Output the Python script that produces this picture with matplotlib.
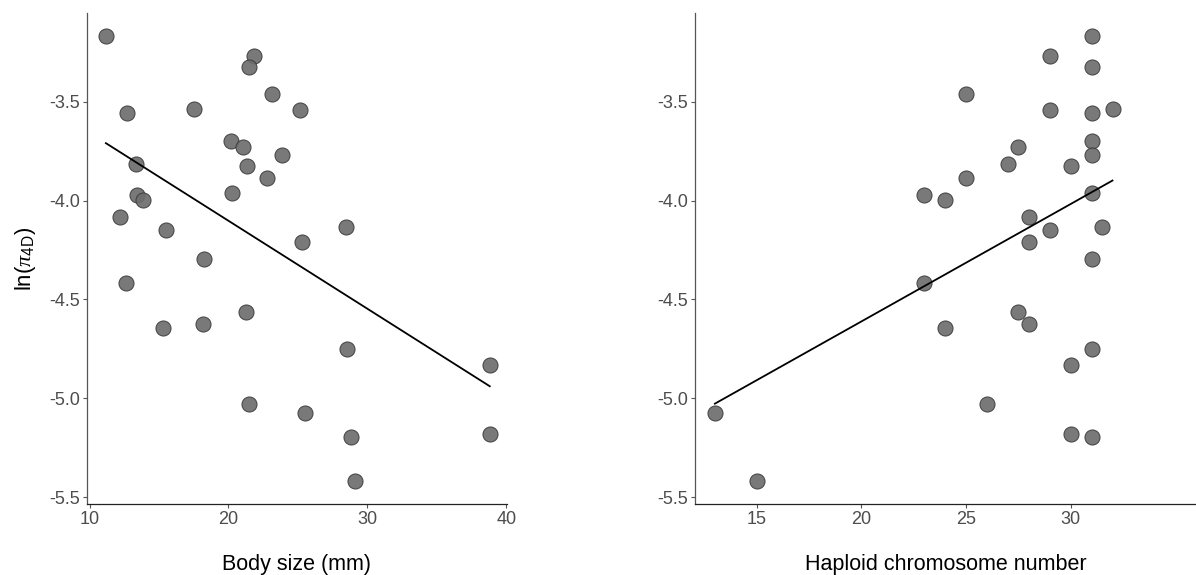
import matplotlib
matplotlib.use("Agg")
import matplotlib.pyplot as plt
import numpy as np

plt.rcParams["font.family"] = ["Liberation Sans", "DejaVu Sans"]
plt.rcParams["mathtext.fontset"] = "custom"
plt.rcParams["mathtext.rm"] = "Liberation Sans"
plt.rcParams["mathtext.it"] = "Liberation Serif:italic"

# ln(pi_4D) per species, with body size and haploid chromosome number
ln_pi = [-3.165, -3.268, -3.322, -3.46, -3.554, -3.537, -3.54, -3.697,
         -3.729, -3.768, -3.813, -3.823, -3.885, -3.97, -3.961, -3.995,
         -4.082, -4.15, -4.131, -4.207, -4.296, -4.418, -4.562, -4.646,
         -4.623, -4.753, -4.833, -5.027, -5.076, -5.195, -5.179, -5.419]
body_size = [11.18, 21.85, 21.51, 23.12, 12.69, 17.53, 25.11, 20.17,
             21.08, 23.86, 13.31, 21.32, 22.78, 13.41, 20.27, 13.84,
             12.21, 15.5, 28.45, 25.28, 18.27, 12.64, 21.25, 15.28,
             18.18, 28.52, 38.8, 21.51, 25.47, 28.82, 38.8, 29.13]
chrom_num = [31, 29, 31, 25, 31, 32, 29, 31,
             27.5, 31, 27, 30, 25, 23, 31, 24,
             28, 29, 31.5, 28, 31, 23, 27.5, 24,
             28, 31, 30, 26, 13, 31, 30, 15]

y_ticks = [-5.5, -5.0, -4.5, -4.0, -3.5]

W, H = 1196, 575
fig = plt.figure(figsize=(W / 100, H / 100), dpi=100)

ax1 = fig.add_axes([87 / W, 1 - 504 / H, (507 - 87) / W, (504 - 13) / H])
ax2 = fig.add_axes([695 / W, 1 - 504 / H, (W - 695) / W, (504 - 13) / H])


def panel(ax, x, y, xlim, xticks, xlabel):
    x = np.array(x)
    y = np.array(y)
    ax.scatter(x, y, s=118, facecolor="#6e6e6e", edgecolor="#383838",
               linewidth=0.7, alpha=0.92, zorder=2)
    k, b = np.polyfit(x, y, 1)
    xx = np.array([x.min(), x.max()])
    ax.plot(xx, k * xx + b, color="black", lw=1.3, zorder=3)

    ax.set_xlim(xlim)
    ax.set_ylim(-5.535, -3.05)
    ax.set_xticks(xticks)
    ax.set_yticks(y_ticks)
    ax.set_yticklabels([f"{t:.1f}" for t in y_ticks])
    for s in ["top", "right"]:
        ax.spines[s].set_visible(False)
    ax.spines["left"].set_color("#555555")
    ax.spines["bottom"].set_color("#222222")
    ax.spines["left"].set_linewidth(0.9)
    ax.spines["bottom"].set_linewidth(0.9)
    ax.tick_params(length=3, width=0.8, color="#555555", labelsize=13,
                   labelcolor="#4d4d4d", pad=2)
    ax.set_xlabel(xlabel, fontsize=15.5, labelpad=19, color="black")


panel(ax1, body_size, ln_pi, (9.82, 40.04), [10, 20, 30, 40], "Body size (mm)")
panel(ax2, chrom_num, ln_pi, (12.05, 35.99), [15, 20, 25, 30],
      "Haploid chromosome number")

ax1.set_ylabel(r"ln($\pi_{\mathrm{4D}}$)", fontsize=16, labelpad=8)

fig.savefig("out.png", dpi=100)
